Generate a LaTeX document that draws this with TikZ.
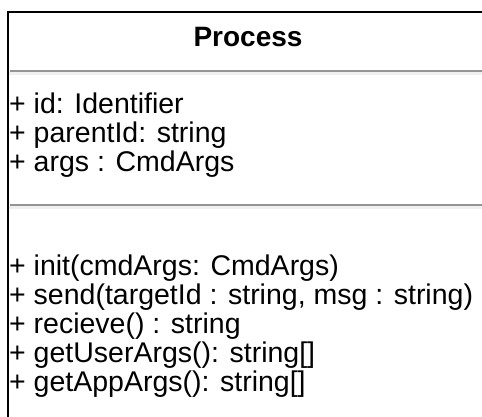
\documentclass[tikz,border=0pt]{standalone}
\usepackage{fontspec}
\setmainfont{Liberation Sans}
\begin{document}
\begin{tikzpicture}[x=1pt,y=-1pt,
  outline/.style={draw=black,line width=2.4pt},
  divider/.style={draw=black!42,line width=2.6pt},
  glow/.style={fill=black!6,draw=none},
  classname/.style={inner sep=0pt,font=\fontsize{28}{32}\selectfont\bfseries},
  member/.style={inner sep=0pt,anchor=base west,font=\fontsize{28.5}{30}\selectfont}]
\useasboundingbox (0,0) rectangle (482,416);
\fill[white] (0,0) rectangle (482,416);

% compartment dividers with their faint shading
\fill[glow] (9,72) rectangle (490,75);
\draw[divider] (10,71) -- (490,71);
\fill[glow] (9,206) rectangle (490,209);
\draw[divider] (10,205) -- (490,205);

% class outline (continues past the right and lower edges)
\draw[outline] (8,430) |- (490,12);

% class name
\node[classname,anchor=base] (name) at (248,46) {Process};

% attributes
\node[member] (attrA) at (9,113) {+ id: Identifier};
\node[member] (attrB) at (9,142) {+ parentId: string};
\node[member] (attrC) at (9,171) {+ args : CmdArgs};

% operations
\node[member] (opA) at (9,275) {+ init(cmdArgs: CmdArgs)};
\node[member] (opB) at (9,304) {+ send(targetId : string, msg : string)};
\node[member] (opC) at (9,333) {+ recieve() : string};
\node[member] (opD) at (9,362) {+ getUserArgs(): string[]};
\node[member] (opE) at (9,391) {+ getAppArgs(): string[]};
\end{tikzpicture}
\end{document}
